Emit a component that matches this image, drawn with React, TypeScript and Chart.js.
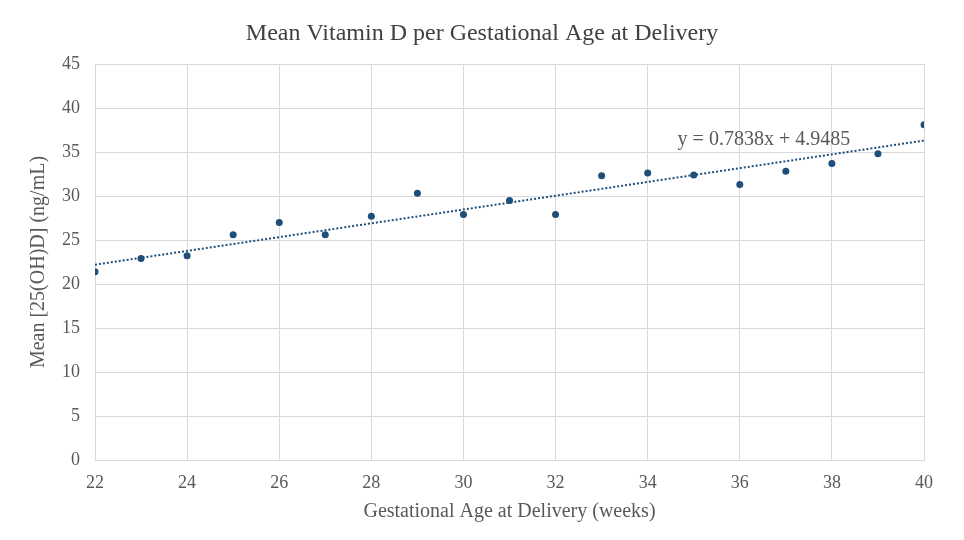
import React, { useEffect, useRef } from "react";
import { Chart, registerables } from "chart.js";

Chart.register(...registerables);

// Gestational age at delivery (weeks)
const weeks = [22, 23, 24, 25, 26, 27, 28, 29, 30, 31, 32, 33, 34, 35, 36, 37, 38, 39, 40];
// Mean serum 25(OH)D per week (ng/mL)
const meanVitD = [21.4, 22.9, 23.2, 25.6, 27.0, 25.6, 27.7, 30.3, 27.9, 29.5, 27.9, 32.3, 32.6, 32.4, 31.3, 32.8, 33.7, 34.8, 38.1];
// Linear trend line coefficients
const trendSlope = 0.7838;
const trendIntercept = 4.9485;
const trendLabel = "y = 0.7838x + 4.9485";

const titleText = "Mean Vitamin D per Gestational Age at Delivery";
const xTitle = "Gestational Age at Delivery (weeks)";
const yTitle = "Mean [25(OH)D] (ng/mL)";

const FONT = "'Liberation Serif', 'Times New Roman', serif";
const TEXT = "#595959";
const GRID = "#d9d9d9";
const MARK = "#1f4e79";

export default function App() {
  const ref = useRef<HTMLCanvasElement | null>(null);

  useEffect(() => {
    if (!ref.current) return;
    const xMin = weeks[0];
    const xMax = weeks[weeks.length - 1];
    const trend = [
      { x: xMin, y: trendSlope * xMin + trendIntercept },
      { x: xMax, y: trendSlope * xMax + trendIntercept },
    ];

    const overlay = {
      id: "overlay",
      afterDraw(chart: any) {
        const ctx = chart.ctx;
        ctx.save();
        // chart title
        ctx.fillStyle = "#404040";
        ctx.font = `24px ${FONT}`;
        ctx.textAlign = "center";
        ctx.textBaseline = "middle";
        ctx.fillText(titleText, chart.width / 2, 34);
        // trend line equation
        const xs = chart.scales.x;
        const ys = chart.scales.y;
        ctx.fillStyle = TEXT;
        ctx.font = `20px ${FONT}`;
        ctx.textAlign = "left";
        ctx.fillText(trendLabel, xs.getPixelForValue(34.65), ys.getPixelForValue(36.4));
        ctx.restore();
      },
    };

    const chart = new Chart(ref.current, {
      type: "scatter",
      data: {
        datasets: [
          {
            label: "Mean 25(OH)D",
            data: weeks.map((w, i) => ({ x: w, y: meanVitD[i] })),
            backgroundColor: MARK,
            borderColor: MARK,
            pointRadius: 3.5,
            pointBorderWidth: 0,
            order: 1,
          },
          {
            type: "line",
            label: "Linear trend",
            data: trend,
            borderColor: MARK,
            borderWidth: 2,
            borderDash: [2, 2],
            pointRadius: 0,
            fill: false,
            order: 2,
          } as any,
        ],
      },
      options: {
        animation: false,
        responsive: false,
        maintainAspectRatio: false,
        layout: { padding: { top: 64, right: 40, bottom: 16, left: 0 } },
        plugins: {
          legend: { display: false },
          title: { display: false },
          tooltip: { enabled: false },
        },
        scales: {
          x: {
            type: "linear",
            min: 22,
            max: 40,
            afterFit: (s: any) => {
              s.height = 64;
            },
            ticks: {
              stepSize: 2,
              color: TEXT,
              font: { family: FONT, size: 18 },
              padding: 12,
            },
            grid: { color: GRID, lineWidth: 1, drawTicks: false },
            border: { color: GRID },
            title: {
              display: true,
              text: xTitle,
              color: TEXT,
              font: { family: FONT, size: 20 },
              padding: { top: 0, bottom: 0 },
            },
          },
          y: {
            min: 0,
            max: 45,
            afterFit: (s: any) => {
              s.width = 95;
            },
            ticks: {
              stepSize: 5,
              color: TEXT,
              font: { family: FONT, size: 18 },
              padding: 15,
            },
            grid: { color: GRID, lineWidth: 1, drawTicks: false },
            border: { color: GRID },
            title: {
              display: true,
              text: yTitle,
              color: TEXT,
              font: { family: FONT, size: 20 },
              padding: { top: 27, bottom: 0 },
            },
          },
        },
      },
      plugins: [overlay],
    });
    return () => chart.destroy();
  }, []);

  return (
    <div style={{ position: "fixed", left: 0, top: 0, width: 964, height: 540, background: "#fff" }}>
      <canvas ref={ref} width={964} height={540} />
    </div>
  );
}
